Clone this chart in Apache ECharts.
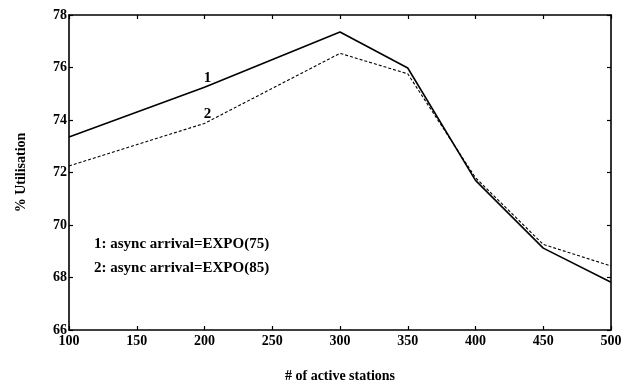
<!DOCTYPE html>
<html>
<head>
<meta charset="utf-8">
<script src="https://cdn.jsdelivr.net/npm/echarts@6/dist/echarts.min.js"></script>
<style>
  html, body { margin: 0; padding: 0; background: #fff; }
  #chart { width: 627px; height: 388px; }
</style>
</head>
<body>
<div id="chart"></div>
<script>
// stations on the x axis
const stations = [100, 200, 300, 350, 400, 450, 500];
// % utilisation
const expo75 = [73.35, 75.25, 77.35, 75.98, 71.7, 69.12, 67.82];
const expo85 = [72.25, 73.87, 76.54, 75.76, 71.8, 69.26, 68.44];
const seriesNames = ["1: async arrival=EXPO(75)", "2: async arrival=EXPO(85)"];
const curveTags = ["1", "2"];

const font = "'Liberation Serif', 'DejaVu Serif', serif";

function toPoints(values, tag) {
  return values.map(function (v, i) {
    const p = { value: [stations[i], v] };
    if (stations[i] === 200) {
      p.label = {
        show: true,
        formatter: tag,
        position: "top",
        distance: 2,
        offset: [3, 0],
        fontFamily: font,
        fontWeight: "bold",
        fontSize: 15,
        color: "#000",
      };
    }
    return p;
  });
}

const chart = echarts.init(document.getElementById("chart"));

const axisLine = { show: true, lineStyle: { color: "#000", width: 1.6 } };
const tickStyle = { show: true, inside: true, length: 4, lineStyle: { color: "#000", width: 1.2 } };
const labelStyle = { fontFamily: font, fontWeight: "bold", fontSize: 14, color: "#000" };

const option = {
  animation: false,
  grid: { left: 69, right: 16, top: 15, bottom: 56 },
  legend: {
    orient: "vertical",
    left: 84,
    top: 232,
    icon: "none",
    itemWidth: 0,
    itemGap: 9,
    textStyle: { fontFamily: font, fontWeight: "bold", fontSize: 15, color: "#000" },
    data: seriesNames,
  },
  xAxis: [
    {
      type: "value",
      min: 100,
      max: 500,
      interval: 50,
      name: "# of active stations",
      nameLocation: "middle",
      nameGap: 39,
      nameTextStyle: { fontFamily: font, fontWeight: "bold", fontSize: 14, color: "#000" },
      axisLine: axisLine,
      axisTick: tickStyle,
      axisLabel: Object.assign({ margin: 4 }, labelStyle),
      splitLine: { show: false },
    },
    {
      type: "value",
      position: "top",
      min: 100,
      max: 500,
      interval: 50,
      axisLine: axisLine,
      axisTick: tickStyle,
      axisLabel: { show: false },
      splitLine: { show: false },
    },
  ],
  yAxis: [
    {
      type: "value",
      min: 66,
      max: 78,
      interval: 2,
      name: "% Utilisation",
      nameLocation: "middle",
      nameGap: 41,
      nameTextStyle: { fontFamily: font, fontWeight: "bold", fontSize: 14, color: "#000" },
      axisLine: axisLine,
      axisTick: tickStyle,
      axisLabel: Object.assign({ margin: 2 }, labelStyle),
      splitLine: { show: false },
    },
    {
      type: "value",
      position: "right",
      min: 66,
      max: 78,
      interval: 2,
      axisLine: axisLine,
      axisTick: tickStyle,
      axisLabel: { show: false },
      splitLine: { show: false },
    },
  ],
  series: [
    {
      name: seriesNames[0],
      type: "line",
      data: toPoints(expo75, curveTags[0]),
      showSymbol: true,
      symbol: "circle",
      symbolSize: 0.01,
      lineStyle: { color: "#000", width: 1.6, type: "solid" },
      itemStyle: { color: "#000" },
    },
    {
      name: seriesNames[1],
      type: "line",
      data: toPoints(expo85, curveTags[1]),
      showSymbol: true,
      symbol: "circle",
      symbolSize: 0.01,
      lineStyle: { color: "#000", width: 1.1, type: [3, 2] },
      itemStyle: { color: "#000" },
    },
  ],
};

chart.setOption(option);
</script>
</body>
</html>
